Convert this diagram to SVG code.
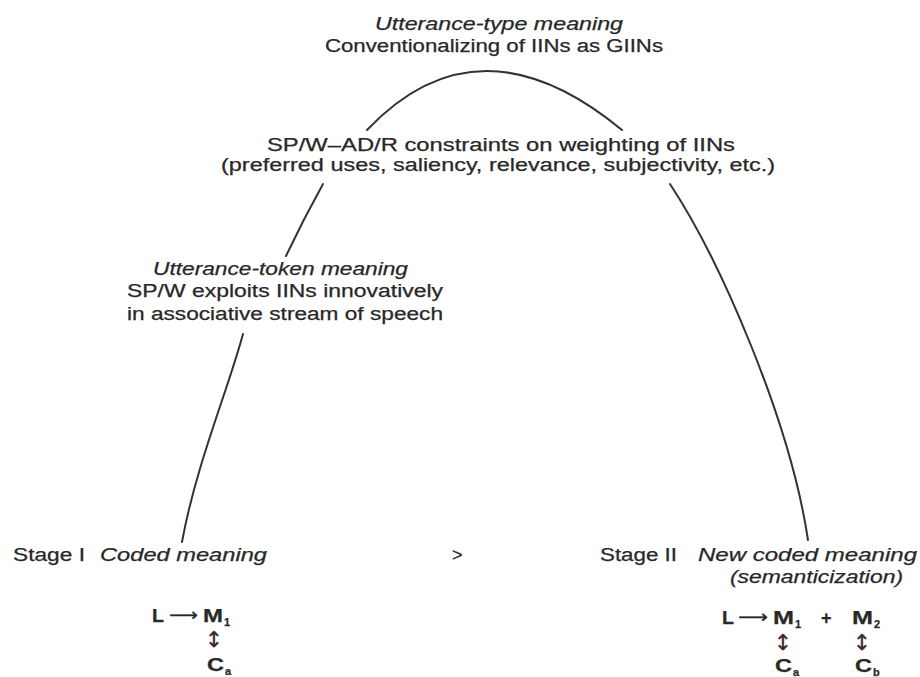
<svg xmlns="http://www.w3.org/2000/svg" width="920" height="677" viewBox="0 0 920 677">
<style>
  text { font-family: "Liberation Sans", Arial, sans-serif; font-size: 18px; fill: #282828; stroke: #282828; stroke-width: 0.25px; }
  .it { font-style: italic; }
  .f { font-weight: bold; font-size: 18px; }
  .sym { font-family: "DejaVu Sans", "Liberation Sans", sans-serif; }
  .dbl { font-family: "DejaVu Sans", "Liberation Sans", sans-serif; font-size: 22px; text-anchor: middle; stroke-width: 0.3px; stroke: #3a2a2e; fill: #3a2a2e; }
  .sub { font-size: 11px; font-weight: bold; }
  .arc { fill: none; stroke: #333; stroke-width: 2; stroke-linecap: round; }
</style>
<rect width="920" height="677" fill="#ffffff"/>

<g id="connectors">
  <path class="arc" d="M367,130 Q479,12 622,130"/>
  <path class="arc" d="M323,184 Q303,220 286,256"/>
  <path class="arc" d="M243,334 C228,390 196,465 182,542"/>
  <path class="arc" d="M670,184 C720,260 790,420 808,540"/>
</g>

<g id="utterance-type">
  <text class="it" x="375" y="30" textLength="248" lengthAdjust="spacingAndGlyphs">Utterance-type meaning</text>
  <text x="325" y="52" textLength="338" lengthAdjust="spacingAndGlyphs">Conventionalizing of IINs as GIINs</text>
</g>

<g id="constraints">
  <text x="267" y="151" textLength="468" lengthAdjust="spacingAndGlyphs">SP/W–AD/R constraints on weighting of IINs</text>
  <text x="221" y="171" textLength="554" lengthAdjust="spacingAndGlyphs">(preferred uses, saliency, relevance, subjectivity, etc.)</text>
</g>

<g id="utterance-token">
  <text class="it" x="153" y="275" textLength="255" lengthAdjust="spacingAndGlyphs">Utterance-token meaning</text>
  <text x="127" y="297" textLength="316" lengthAdjust="spacingAndGlyphs">SP/W exploits IINs innovatively</text>
  <text x="127" y="320" textLength="316" lengthAdjust="spacingAndGlyphs">in associative stream of speech</text>
</g>

<g id="stage-1">
  <text x="13" y="561" textLength="72" lengthAdjust="spacingAndGlyphs">Stage I</text>
  <text class="it" x="100" y="561" textLength="167" lengthAdjust="spacingAndGlyphs">Coded meaning</text>
  <text class="f" x="152" y="622" textLength="12" lengthAdjust="spacingAndGlyphs">L</text>
  <text class="sym" x="169" y="621" textLength="29" lengthAdjust="spacingAndGlyphs">⟶</text>
  <text class="f" x="203" y="622" textLength="20" lengthAdjust="spacingAndGlyphs">M</text>
  <text class="sub" x="224" y="626">1</text>
  <text class="dbl" x="214" y="647">↕</text>
  <text class="f" x="207" y="671" textLength="17" lengthAdjust="spacingAndGlyphs">C</text>
  <text class="sub" x="225" y="675">a</text>
</g>

<g id="gt">
  <text x="452" y="561">&gt;</text>
</g>

<g id="stage-2">
  <text x="600" y="561" textLength="77" lengthAdjust="spacingAndGlyphs">Stage II</text>
  <text class="it" x="698" y="561" textLength="219" lengthAdjust="spacingAndGlyphs">New coded meaning</text>
  <text class="it" x="730" y="583" textLength="173" lengthAdjust="spacingAndGlyphs">(semanticization)</text>
  <text class="f" x="722" y="624" textLength="12" lengthAdjust="spacingAndGlyphs">L</text>
  <text class="sym" x="738" y="623" textLength="30" lengthAdjust="spacingAndGlyphs">⟶</text>
  <text class="f" x="773" y="624" textLength="21" lengthAdjust="spacingAndGlyphs">M</text>
  <text class="sub" x="795" y="628">1</text>
  <text class="f" x="821" y="624">+</text>
  <text class="f" x="852" y="624" textLength="21" lengthAdjust="spacingAndGlyphs">M</text>
  <text class="sub" x="874" y="628">2</text>
  <text class="dbl" x="783" y="650">↕</text>
  <text class="dbl" x="862" y="650">↕</text>
  <text class="f" x="775" y="672" textLength="17" lengthAdjust="spacingAndGlyphs">C</text>
  <text class="sub" x="793" y="676">a</text>
  <text class="f" x="855" y="672" textLength="17" lengthAdjust="spacingAndGlyphs">C</text>
  <text class="sub" x="873" y="676">b</text>
</g>
</svg>
